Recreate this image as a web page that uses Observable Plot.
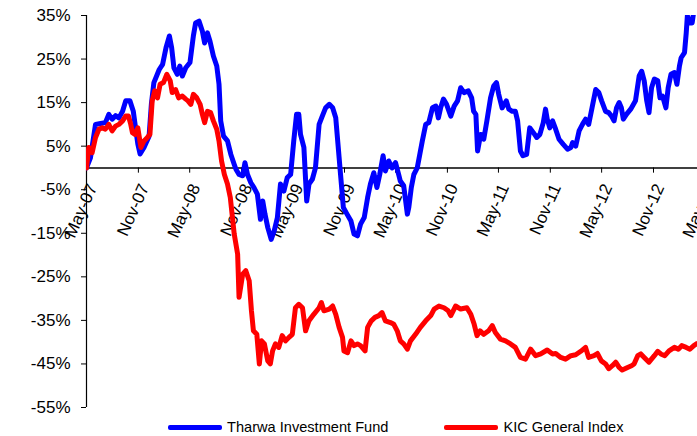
<!DOCTYPE html>
<html>
<head>
<meta charset="utf-8">
<script src="https://cdn.jsdelivr.net/npm/d3@7"></script>
<script src="https://cdn.jsdelivr.net/npm/@observablehq/plot@0.6"></script>
<style>
  html, body { margin: 0; padding: 0; background: #fff; overflow: hidden; }
  #chart { width: 697px; }
  .legend { display: flex; align-items: center; height: 22px; padding-left: 168px; margin-top: -2px;
            font-family: "Liberation Sans", Arial, sans-serif; font-size: 14.6px; color: #000; }
  .sw { display: inline-block; width: 54px; height: 5px; border-radius: 2px; margin-right: 5px; }
  .item2 { margin-left: 56px; }
</style>
</head>
<body>
<div id="chart"></div>
<script>
// ---- Data ----
const seriesNames = ["Tharwa Investment Fund", "KIC General Index"];
const seriesColors = ["#0000ff", "#ff0000"];

const tharwaDates = [
"2007-05-01","2007-05-15","2007-06-02","2007-06-20","2007-07-07","2007-07-19","2007-07-31","2007-08-12","2007-08-24","2007-09-06",
"2007-09-17","2007-10-02","2007-10-14","2007-10-22","2007-10-30","2007-11-07","2007-11-21","2007-12-09","2007-12-17","2007-12-26",
"2008-01-14","2008-01-26","2008-02-07","2008-02-19","2008-02-27","2008-03-06","2008-03-18","2008-03-27","2008-04-05","2008-04-17",
"2008-05-02","2008-05-14","2008-05-22","2008-06-03","2008-06-15","2008-06-23","2008-07-03","2008-07-12","2008-07-24","2008-08-05",
"2008-08-13","2008-08-19","2008-08-29","2008-09-12","2008-09-24","2008-10-06","2008-10-12","2008-10-23","2008-11-05","2008-11-13",
"2008-11-22","2008-12-04","2008-12-15","2008-12-27","2009-01-07","2009-01-15","2009-01-23","2009-02-02","2009-02-14","2009-02-25",
"2009-03-08","2009-03-19","2009-03-31","2009-04-12","2009-04-24","2009-05-05","2009-05-15","2009-05-23","2009-05-29","2009-06-10",
"2009-06-20","2009-06-28","2009-07-10","2009-07-21","2009-08-03","2009-08-15","2009-08-26","2009-09-08","2009-09-20","2009-10-01",
"2009-10-09","2009-10-18","2009-10-28","2009-11-10","2009-11-24","2009-12-05","2009-12-17","2009-12-28","2010-01-10","2010-01-22",
"2010-02-01","2010-02-13","2010-02-24","2010-03-06","2010-03-18","2010-03-26","2010-04-07","2010-04-19","2010-05-01","2010-05-12",
"2010-05-18","2010-05-30","2010-06-12","2010-06-17","2010-06-26","2010-07-05","2010-07-17","2010-07-26","2010-08-04","2010-08-16",
"2010-08-27","2010-09-09","2010-09-21","2010-09-30","2010-10-08","2010-10-18","2010-10-29","2010-11-13","2010-11-25","2010-12-07",
"2010-12-18","2010-12-30","2011-01-14","2011-01-26","2011-02-02","2011-02-10","2011-02-16","2011-02-27","2011-03-10","2011-03-21",
"2011-04-03","2011-04-14","2011-04-24","2011-05-02","2011-05-14","2011-05-29","2011-06-07","2011-06-19","2011-06-30","2011-07-08",
"2011-07-18","2011-07-27","2011-08-09","2011-08-20","2011-09-02","2011-09-14","2011-09-25","2011-10-07","2011-10-15","2011-10-21",
"2011-10-30","2011-11-09","2011-11-20","2011-12-02","2011-12-17","2012-01-01","2012-01-13","2012-01-19","2012-01-30","2012-02-11",
"2012-02-23","2012-03-05","2012-03-16","2012-03-28","2012-04-10","2012-04-21","2012-05-01","2012-05-15","2012-05-26","2012-06-05",
"2012-06-14","2012-06-23","2012-07-02","2012-07-10","2012-07-17","2012-07-28","2012-08-12","2012-08-29","2012-09-11","2012-09-20",
"2012-09-29","2012-10-08","2012-10-16","2012-10-25","2012-11-04","2012-11-16","2012-11-24","2012-12-03","2012-12-15","2012-12-23",
"2013-01-02","2013-01-14","2013-01-23","2013-02-01","2013-02-07","2013-02-19","2013-02-25","2013-03-01","2013-03-10","2013-03-18",
"2013-03-26"
];
const tharwaValues = [
0, 2.3, 10, 10.2, 10.4, 12.3, 11.2, 12, 11.5, 13,
15.4, 15.4, 13, 9.2, 5.5, 3.2, 4.7, 7.3, 14.6, 19.6,
22.6, 23.8, 27.6, 30.3, 27.6, 23, 21.5, 23.4, 21.1, 23,
24.2, 30.3, 33.3, 33.7, 31.4, 28.7, 31, 29.1, 25.7, 23.4,
19.2, 10.8, 7.3, 6.2, 3.1, 0.8, -0.3, -1.5, -1.8, 1.2,
-1.5, -3.4, -4.5, -6, -11.8, -7.6, -10.6, -13.7, -16.4, -14.4,
-11.4, -3.7, -5.3, -2.2, -1.5, 6.2, 12.3, 12.3, 7.7, 4.7,
-7.6, -3.7, -2.6, 0, 10, 12, 13.8, 14.6, 13.8, 11.5,
5.4, -1.5, -9.1, -10.6, -12.2, -15.2, -15.6, -12.9, -11.4, -6.8,
-3.7, -1.1, -4.5, -1.5, 2.8, -0.7, 1.6, 0, 1.2, -1.5,
-3, -4.1, -10.6, -9.1, -4.5, -1.5, 0, 3.1, 6.2, 10,
10.4, 13.8, 14.2, 11.5, 13.8, 15.8, 14.6, 11.9, 14.2, 15.4,
18.4, 17.3, 17.7, 16.1, 13, 12.3, 3.9, 7.7, 6.6, 10.8,
16.1, 18.8, 19.6, 16.9, 13.8, 15.4, 13.5, 13, 13, 10.8,
3.9, 2.8, 3.1, 9.2, 8.1, 7, 7.7, 10.4, 13.5, 11.2,
9.2, 10.8, 8.9, 6.6, 5.4, 4.3, 4.7, 5.8, 5, 8.5,
10, 11.2, 10, 13.8, 18, 17.3, 15.4, 13, 12.7, 11.9,
10.8, 13.8, 15, 13.8, 11.2, 12.3, 13.5, 15.4, 21.1, 22.2,
20, 15.4, 12.7, 18.4, 20.4, 20, 16.1, 16.5, 13.8, 18.4,
21.5, 21.9, 19.2, 23.4, 25.3, 26.5, 31, 34.9, 33.3, 33.3,
37
];

const kicDates = [
"2007-05-01","2007-05-09","2007-05-21","2007-06-02","2007-06-14","2007-06-26","2007-07-07","2007-07-19","2007-07-31","2007-08-12",
"2007-08-24","2007-09-06","2007-09-17","2007-09-27","2007-10-05","2007-10-11","2007-10-20","2007-10-30","2007-11-10","2007-11-21",
"2007-12-03","2007-12-12","2007-12-20","2007-12-29","2008-01-08","2008-01-17","2008-01-29","2008-02-10","2008-02-22","2008-02-29",
"2008-03-12","2008-03-23","2008-04-05","2008-04-17","2008-04-25","2008-05-05","2008-05-14","2008-05-26","2008-06-07","2008-06-15",
"2008-06-23","2008-07-03","2008-07-14","2008-07-24","2008-08-05","2008-08-13","2008-08-22","2008-09-01","2008-09-12","2008-09-22",
"2008-10-06","2008-10-18","2008-10-23","2008-11-05","2008-11-16","2008-11-28","2008-12-06","2008-12-13","2008-12-25","2009-01-03",
"2009-01-11","2009-01-21","2009-02-02","2009-02-11","2009-02-19","2009-03-01","2009-03-13","2009-03-25","2009-04-06","2009-04-18",
"2009-04-30","2009-05-11","2009-05-23","2009-06-05","2009-06-16","2009-06-28","2009-07-15","2009-08-03","2009-08-11","2009-08-20",
"2009-09-08","2009-09-20","2009-10-01","2009-10-13","2009-10-25","2009-10-30","2009-11-12","2009-11-24","2009-12-05","2009-12-17",
"2009-12-28","2010-01-13","2010-01-22","2010-02-04","2010-02-17","2010-03-03","2010-03-14","2010-03-26","2010-04-13","2010-04-25",
"2010-05-07","2010-05-18","2010-05-30","2010-06-12","2010-06-23","2010-07-11","2010-07-28","2010-08-16","2010-09-03","2010-09-15",
"2010-10-02","2010-10-20","2010-11-04","2010-11-13","2010-11-30","2010-12-18","2011-01-09","2011-01-23","2011-02-04","2011-02-14",
"2011-02-25","2011-03-10","2011-03-27","2011-04-09","2011-04-20","2011-05-08","2011-05-26","2011-06-13","2011-06-30","2011-07-18",
"2011-08-05","2011-08-23","2011-09-10","2011-09-28","2011-10-21","2011-11-09","2011-11-20","2011-12-08","2011-12-25","2012-01-13",
"2012-01-30","2012-02-17","2012-03-05","2012-03-16","2012-04-04","2012-04-16","2012-04-30","2012-05-15","2012-05-26","2012-06-08",
"2012-06-20","2012-07-02","2012-07-13","2012-08-01","2012-08-15","2012-08-24","2012-09-06","2012-09-17","2012-09-29","2012-10-16",
"2012-11-04","2012-11-16","2012-11-27","2012-12-11","2012-12-26","2013-01-14","2013-01-28","2013-02-09","2013-02-25","2013-03-10",
"2013-03-24","2013-04-05"
];
const kicValues = [
0, 4.7, 3.5, 7, 8.9, 9.2, 8.9, 10, 8.5, 9.6,
10, 10.8, 11.9, 11.9, 10, 8.1, 7.7, 9.2, 4.7, 6.2,
7, 7.7, 15.4, 17.7, 16.1, 19.2, 19.6, 21.5, 20, 17.3,
18, 16.1, 16.5, 15.8, 15.4, 14.6, 16.9, 16.1, 14.6, 12.3,
10.4, 13, 12.7, 10.8, 8.9, 6.2, 1.6, -1.5, -3.7, -6.8,
-15.2, -19.8, -29.7, -24.4, -23.6, -25.9, -32.8, -37.4, -38.2, -45,
-39.7, -40.4, -44.3, -45, -42, -40.4, -41.2, -38.5, -39.7, -38.9,
-38.2, -32.1, -31.3, -32.1, -37.4, -35.1, -33.6, -32.1, -30.9, -32.8,
-32.4, -31.7, -33.6, -36.6, -38.9, -42, -42.4, -39.7, -40.8, -40.4,
-40.8, -42, -36.6, -35.1, -34.3, -33.9, -33.2, -35.1, -35.5, -35.9,
-37.4, -39.7, -40.4, -41.6, -39.7, -38.2, -36.6, -35.1, -33.9, -32.4,
-31.7, -32.1, -32.8, -33.9, -31.7, -32.4, -32.1, -33.6, -35.9, -38.5,
-37.4, -38.2, -37.4, -36.2, -37.8, -39.3, -39.7, -40.4, -41.2, -43.5,
-43.9, -41.6, -43.1, -42.7, -41.8, -42.7, -42.6, -43.5, -43.9, -43.1,
-42.9, -42.1, -41.2, -43.5, -43.1, -42.6, -44.3, -45, -46.1, -45.4,
-44.6, -45.8, -46.4, -45.8, -45.4, -45, -43.1, -42.7, -43.5, -44.6,
-43.1, -42.1, -42.7, -43.1, -42, -41.2, -41.6, -40.8, -41.2, -41.6,
-40.8, -40.3
];

const xTickDates = ["2007-05-01","2007-11-01","2008-05-01","2008-11-01","2009-05-01","2009-11-01","2010-05-01",
                    "2010-11-01","2011-05-01","2011-11-01","2012-05-01","2012-11-01","2013-05-01"];
const xTickLabels = ["May-07","Nov-07","May-08","Nov-08","May-09","Nov-09","May-10",
                     "Nov-10","May-11","Nov-11","May-12","Nov-12","May-13"];
const yTicks = [-55, -45, -35, -25, -15, -5, 5, 15, 25, 35];

// ---- Build tables ----
const parse = d3.utcParse("%Y-%m-%d");
const tharwa = tharwaDates.map((d, i) => ({date: parse(d), value: tharwaValues[i]}));
const kic = kicDates.map((d, i) => ({date: parse(d), value: kicValues[i]}));
const xTicks = xTickDates.map((d, i) => ({date: parse(d), label: xTickLabels[i]}));

const chart = Plot.plot({
  width: 697,
  height: 418,
  marginLeft: 86,
  marginRight: 0,
  marginTop: 15,
  marginBottom: 11,
  style: {fontFamily: "'Liberation Sans', Arial, sans-serif", color: "#000", background: "#fff", overflow: "hidden"},
  x: {type: "utc", domain: [parse("2007-05-01"), parse("2013-04-06")], axis: null},
  y: {domain: [-55, 35], axis: null},
  marks: [
    Plot.axisY({ticks: yTicks, tickSize: 5, tickPadding: 11, tickFormat: d => `${d}%`, fontSize: 17, stroke: "#000", label: null}),
    Plot.ruleX([parse("2007-05-01")], {y1: -55, y2: 35, stroke: "#000", strokeWidth: 1.2}),
    Plot.ruleY([0], {stroke: "#000", strokeWidth: 1.4}),
    Plot.ruleX(xTicks, {x: "date", y1: 0, y2: -1.2, stroke: "#000", strokeWidth: 1}),
    Plot.text(xTicks, {x: "date", y: 0, text: "label", rotate: -66, textAnchor: "end", dx: 6, dy: 17, fontSize: 17, fill: "#000"}),
    Plot.line(tharwa, {x: "date", y: "value", stroke: seriesColors[0], strokeWidth: 5, strokeLinejoin: "round", strokeLinecap: "round", clip: true}),
    Plot.line(kic, {x: "date", y: "value", stroke: seriesColors[1], strokeWidth: 5, strokeLinejoin: "round", strokeLinecap: "round", clip: true})
  ]
});
document.getElementById("chart").appendChild(chart);

const legend = document.createElement("div");
legend.className = "legend";
legend.innerHTML = seriesNames.map((n, i) =>
  `<span class="${i ? "item2" : ""}" style="display:inline-flex;align-items:center"><span class="sw" style="background:${seriesColors[i]}"></span>${n}</span>`
).join("");
document.getElementById("chart").appendChild(legend);
</script>
</body>
</html>
